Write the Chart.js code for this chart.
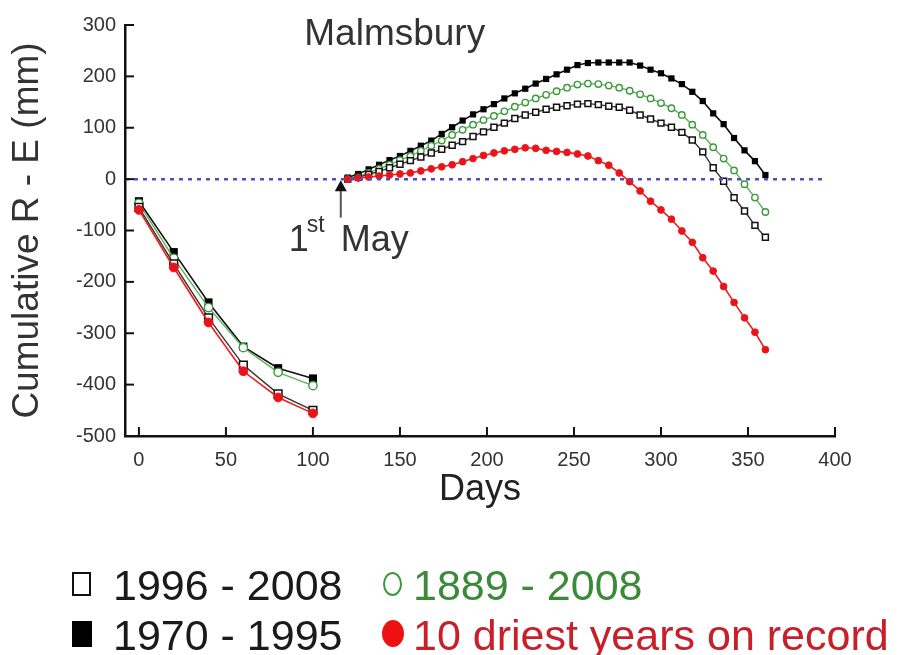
<!DOCTYPE html>
<html>
<head>
<meta charset="utf-8">
<script src="https://cdn.jsdelivr.net/npm/chart.js@4.4.1/dist/chart.umd.min.js"></script>
<style>
  body { margin: 0; background: #fff; }
  #wrap { position: relative; width: 903px; height: 655px; overflow: hidden; }
  #chart { position: absolute; left: 0; top: 0; }
  .leg { position: absolute; font-family: "Liberation Sans", Arial, sans-serif; font-size: 43px; line-height: 43px; white-space: nowrap; }
  .mk { position: absolute; box-sizing: border-box; }
</style>
</head>
<body>
<div id="wrap">
  <canvas id="chart" width="903" height="655"></canvas>

  <div class="mk" style="left:72px; top:572px; width:19px; height:24px; border:2.5px solid #111;"></div>
  <div class="leg" style="left:113px; top:564px; color:#1a1a1a;">1996 - 2008</div>
  <div class="mk" style="left:72px; top:621px; width:20px; height:26px; background:#000;"></div>
  <div class="leg" style="left:113px; top:614px; color:#1a1a1a;">1970 - 1995</div>

  <div class="mk" style="left:383px; top:572px; width:19px; height:24px; border:2.5px solid #3a9a3a; border-radius:50%;"></div>
  <div class="leg" style="left:413px; top:564px; color:#3a8a3a;">1889 - 2008</div>
  <div class="mk" style="left:382px; top:620px; width:22px; height:27px; background:#ee1111; border-radius:50%;"></div>
  <div class="leg" style="left:413px; top:614px; color:#c8202a;">10 driest years on record</div>
</div>

<script>
// summer-autumn segment (Jan - Apr)
const earlyDays = [0, 20, 40, 60, 80, 100];
const early1996 = [-55, -165, -270, -362, -418, -450];
const early1970 = [-43, -142, -240, -326, -368, -388];
const early1889 = [-47, -154, -250, -328, -376, -402];
const earlyDry  = [-60, -172, -279, -374, -425, -456];

// from 1st May onwards
const lateDays = [120, 126, 132, 138, 144, 150, 156, 162, 168, 174, 180, 186, 192, 198, 204, 210, 216, 222, 228, 234,
                  240, 246, 252, 258, 264, 270, 276, 282, 288, 294, 300, 306, 312, 318, 324, 330, 336, 342, 348, 354, 360];
const late1996 = [0, 4, 9, 15, 22, 29, 36, 43, 51, 58, 66, 73, 83, 92, 101, 109, 118, 125, 130, 136,
                  140, 143, 146, 147, 145, 142, 140, 134, 125, 117, 109, 101, 91, 76, 53, 22, -4, -36, -62, -90, -113];
const late1970 = [3, 10, 19, 28, 37, 45, 55, 65, 75, 88, 101, 114, 126, 136, 146, 157, 167, 176, 186, 195,
                  204, 213, 222, 226, 227, 227, 227, 227, 221, 213, 206, 196, 185, 170, 152, 128, 107, 80, 56, 35, 8];
const late1889 = [0, 5, 12, 20, 28, 37, 45, 55, 65, 75, 86, 96, 106, 115, 123, 132, 141, 149, 157, 164,
                  171, 178, 184, 186, 185, 182, 178, 172, 165, 157, 148, 138, 125, 106, 86, 62, 40, 17, -10, -36, -64];
const lateDry  = [0, 2, 4, 6, 8, 10, 12, 16, 20, 24, 28, 34, 40, 46, 51, 55, 58, 61, 60, 56,
                  54, 52, 49, 45, 36, 27, 12, -5, -23, -43, -60, -78, -101, -123, -153, -179, -209, -240, -270, -298, -332];

const xTicks = [0, 50, 100, 150, 200, 250, 300, 350, 400];
const yTicks = [-500, -400, -300, -200, -100, 0, 100, 200, 300];
const zeroLineDays = [-8, 393];
const stationName = "Malmsbury";
const mayArrow = { day: 116, tail: -75 };

function joinSegments(d1, v1, d2, v2) {
    const pts = d1.map((d, i) => ({ x: d, y: v1[i] }));
    pts.push({ x: 110, y: null });
    return pts.concat(d2.map((d, i) => ({ x: d, y: v2[i] })));
}

// markers of the Jan-Apr part are drawn a bit bigger
const bigEarly = r => c => (c.raw && c.raw.x <= 100 ? r * 1.3 : r);

const decor = {
    id: 'decor',
    afterDraw(chart) {
        const { ctx, chartArea: a, scales: { x, y } } = chart;
        ctx.save();
        ctx.strokeStyle = '#111';
        ctx.lineWidth = 2;
        x.ticks.forEach(t => {
            const px = x.getPixelForValue(t.value);
            ctx.beginPath(); ctx.moveTo(px, a.bottom); ctx.lineTo(px, a.bottom - 9); ctx.stroke();
        });
        y.ticks.forEach(t => {
            const py = y.getPixelForValue(t.value);
            ctx.beginPath(); ctx.moveTo(a.left, py); ctx.lineTo(a.left + 9, py); ctx.stroke();
        });

        // station name
        ctx.fillStyle = '#333';
        ctx.font = '37px "Liberation Sans", Arial, sans-serif';
        ctx.textAlign = 'center';
        ctx.textBaseline = 'middle';
        ctx.fillText(stationName, x.getPixelForValue(147), y.getPixelForValue(280));

        // 1st May arrow
        const ax = x.getPixelForValue(mayArrow.day);
        const tip = y.getPixelForValue(0) + 1;
        const tail = y.getPixelForValue(mayArrow.tail);
        ctx.strokeStyle = '#555';
        ctx.lineWidth = 2;
        ctx.beginPath(); ctx.moveTo(ax, tail); ctx.lineTo(ax, tip + 8); ctx.stroke();
        ctx.fillStyle = '#111';
        ctx.beginPath(); ctx.moveTo(ax, tip); ctx.lineTo(ax - 6, tip + 11); ctx.lineTo(ax + 6, tip + 11); ctx.closePath(); ctx.fill();

        ctx.fillStyle = '#333';
        ctx.textAlign = 'left';
        ctx.textBaseline = 'alphabetic';
        const base = tail + 33;
        ctx.font = '36px "Liberation Sans", Arial, sans-serif';
        ctx.fillText('1', ax - 52, base);
        ctx.fillText('May', ax, base);
        ctx.font = '23px "Liberation Sans", Arial, sans-serif';
        ctx.fillText('st', ax - 34, base - 19);
        ctx.restore();
    }
};

const ctx = document.getElementById('chart').getContext('2d');

new Chart(ctx, {
    type: 'line',
    data: {
        datasets: [
            {
                label: 'zero',
                data: zeroLineDays.map(d => ({ x: d, y: 0 })),
                borderColor: '#5050b4',
                borderWidth: 2.5,
                borderDash: [4, 5],
                pointRadius: 0
            },
            {
                label: '10 driest years on record',
                data: joinSegments(earlyDays, earlyDry, lateDays, lateDry),
                borderColor: '#ee1c1c',
                backgroundColor: '#e8141c',
                borderWidth: 1.6,
                pointStyle: 'circle',
                pointRadius: bigEarly(3.4),
                pointBorderWidth: 1
            },
            {
                label: '1996 - 2008',
                data: joinSegments(earlyDays, early1996, lateDays, late1996),
                borderColor: '#333',
                backgroundColor: '#fff',
                pointBorderColor: '#111',
                borderWidth: 1.4,
                pointStyle: 'rect',
                pointRadius: bigEarly(4.2),
                pointBorderWidth: 1.5
            },
            {
                label: '1889 - 2008',
                data: joinSegments(earlyDays, early1889, lateDays, late1889),
                borderColor: '#5fb25f',
                backgroundColor: '#fff',
                pointBorderColor: '#3a9a3a',
                borderWidth: 1.4,
                pointStyle: 'circle',
                pointRadius: bigEarly(3.2),
                pointBorderWidth: 1.4
            },
            {
                label: '1970 - 1995',
                data: joinSegments(earlyDays, early1970, lateDays, late1970),
                borderColor: '#111',
                backgroundColor: '#000',
                borderWidth: 1.6,
                pointStyle: 'rect',
                pointRadius: bigEarly(4.4),
                pointBorderWidth: 0
            }
        ]
    },
    options: {
        responsive: false,
        animation: false,
        spanGaps: false,
        layout: { padding: { top: 25, right: 68, bottom: 139, left: 0 } },
        plugins: {
            legend: { display: false },
            tooltip: { enabled: false }
        },
        scales: {
            x: {
                type: 'linear',
                min: -8,
                max: 400,
                afterFit: s => { s.height = 80; },
                afterBuildTicks: s => { s.ticks = xTicks.map(v => ({ value: v })); },
                grid: { display: false, drawTicks: false },
                border: { display: true, color: '#111', width: 2.5 },
                ticks: {
                    padding: 12,
                    color: '#333',
                    font: { family: '"Liberation Sans", Arial, sans-serif', size: 20 }
                },
                title: {
                    display: true,
                    text: 'Days',
                    color: '#222',
                    padding: { top: 0, bottom: 4 },
                    font: { family: '"Liberation Sans", Arial, sans-serif', size: 36 }
                }
            },
            y: {
                type: 'linear',
                min: -500,
                max: 300,
                afterFit: s => { s.width = 125; },
                afterBuildTicks: s => { s.ticks = yTicks.map(v => ({ value: v })); },
                grid: { display: false, drawTicks: false },
                border: { display: true, color: '#111', width: 2.5 },
                ticks: {
                    padding: 9,
                    color: '#333',
                    font: { family: '"Liberation Sans", Arial, sans-serif', size: 20 }
                },
                title: {
                    display: true,
                    text: 'Cumulative R - E (mm)',
                    color: '#333',
                    padding: { top: 6, bottom: 0 },
                    font: { family: '"Liberation Sans", Arial, sans-serif', size: 37 }
                }
            }
        }
    },
    plugins: [decor]
});
</script>
</body>
</html>
